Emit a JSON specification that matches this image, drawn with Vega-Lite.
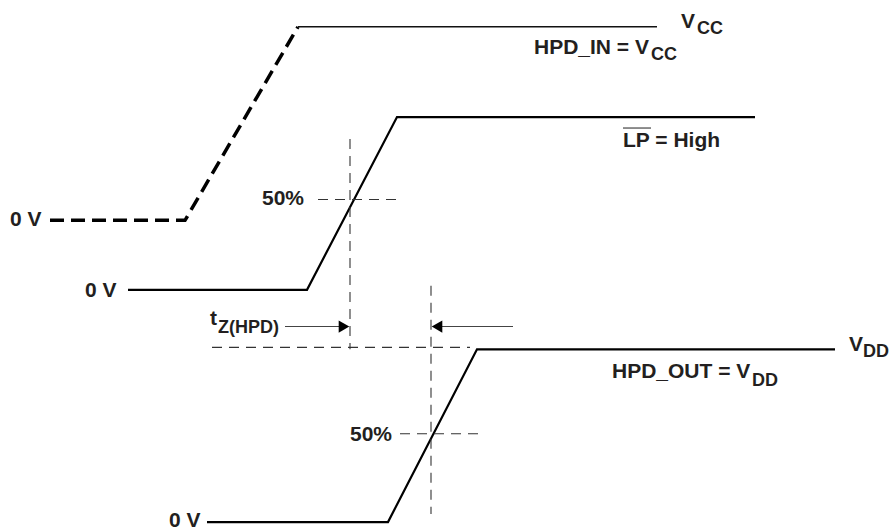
{
  "$schema": "https://vega.github.io/schema/vega-lite/v6.json",
  "width": 893,
  "height": 531,
  "padding": 0,
  "autosize": {"type": "fit", "contains": "padding"},
  "background": "white",
  "config": {"view": {"stroke": null}},
  "encoding": {
    "x": {"field": "x", "type": "quantitative", "scale": {"domain": [0, 893], "nice": false, "zero": false}, "axis": null},
    "y": {"field": "y", "type": "quantitative", "scale": {"domain": [0, 531], "nice": false, "zero": false, "reverse": true}, "axis": null}
  },
  "layer": [
    {
      "data": {"values": [
        {"x": 50, "y": 222, "o": 1},
        {"x": 185, "y": 222, "o": 2},
        {"x": 298, "y": 27, "o": 3}
      ]},
      "mark": {"type": "line", "color": "black", "strokeWidth": 3.5, "strokeDash": [14, 7], "clip": false},
      "encoding": {"order": {"field": "o"}}
    },
    {
      "data": {"values": [
        {"x": 298, "y": 27, "o": 1},
        {"x": 657, "y": 27, "o": 2}
      ]},
      "mark": {"type": "line", "color": "#111", "strokeWidth": 1.6},
      "encoding": {"order": {"field": "o"}}
    },
    {
      "data": {"values": [
        {"id": "LP", "x": 128, "y": 292, "o": 1},
        {"id": "LP", "x": 307, "y": 292, "o": 2},
        {"id": "LP", "x": 397, "y": 118, "o": 3},
        {"id": "LP", "x": 755, "y": 118, "o": 4},
        {"id": "OUT", "x": 207, "y": 526, "o": 1},
        {"id": "OUT", "x": 388, "y": 526, "o": 2},
        {"id": "OUT", "x": 477, "y": 352, "o": 3},
        {"id": "OUT", "x": 835, "y": 352, "o": 4}
      ]},
      "mark": {"type": "line", "color": "black", "strokeWidth": 2.2},
      "encoding": {"detail": {"field": "id"}, "order": {"field": "o"}}
    },
    {
      "data": {"values": [
        {"x": 350, "y": 140, "x2": 350, "y2": 352},
        {"x": 318, "y": 201, "x2": 403, "y2": 201},
        {"x": 212, "y": 350, "x2": 470, "y2": 350},
        {"x": 431, "y": 288, "x2": 431, "y2": 518},
        {"x": 400, "y": 437, "x2": 484, "y2": 437}
      ]},
      "mark": {"type": "rule", "color": "#333", "strokeWidth": 1.1, "strokeDash": [10, 7]},
      "encoding": {"x2": {"field": "x2"}, "y2": {"field": "y2"}}
    },
    {
      "data": {"values": [
        {"x": 285, "y": 329, "x2": 340, "y2": 329},
        {"x": 513, "y": 329, "x2": 442, "y2": 329},
        {"x": 623, "y": 129, "x2": 651, "y2": 129}
      ]},
      "mark": {"type": "rule", "color": "#444", "strokeWidth": 1.2},
      "encoding": {"x2": {"field": "x2"}, "y2": {"field": "y2"}}
    },
    {
      "data": {"values": [
        {"x": 344, "y": 329, "dir": "right"},
        {"x": 437, "y": 329, "dir": "left"}
      ]},
      "mark": {"type": "point", "filled": true, "color": "black", "size": 150, "opacity": 1},
      "encoding": {
        "shape": {"field": "dir", "type": "nominal", "scale": {"domain": ["right", "left"], "range": ["triangle-right", "triangle-left"]}, "legend": null}
      }
    },
    {
      "data": {"values": [
        {"x": 681, "y": 28, "t": "V"},
        {"x": 534, "y": 54, "t": "HPD_IN = V"},
        {"x": 623, "y": 148, "t": "LP = High"},
        {"x": 262, "y": 207, "t": "50%"},
        {"x": 10, "y": 228, "t": "0 V"},
        {"x": 85, "y": 299, "t": "0 V"},
        {"x": 210, "y": 327, "t": "t"},
        {"x": 350, "y": 444, "t": "50%"},
        {"x": 169, "y": 531, "t": "0 V"},
        {"x": 849, "y": 354, "t": "V"},
        {"x": 612, "y": 381, "t": "HPD_OUT = V"}
      ]},
      "mark": {"type": "text", "align": "left", "baseline": "alphabetic", "font": "Liberation Sans", "fontWeight": "bold", "fontSize": 21, "color": "#231f20"},
      "encoding": {"text": {"field": "t"}}
    },
    {
      "data": {"values": [
        {"x": 697, "y": 34, "t": "CC"},
        {"x": 651, "y": 60, "t": "CC"},
        {"x": 218, "y": 336, "t": "Z(HPD)"},
        {"x": 863, "y": 360, "t": "DD"},
        {"x": 752, "y": 389, "t": "DD"}
      ]},
      "mark": {"type": "text", "align": "left", "baseline": "alphabetic", "font": "Liberation Sans", "fontWeight": "bold", "fontSize": 18, "color": "#231f20"},
      "encoding": {"text": {"field": "t"}}
    }
  ]
}
